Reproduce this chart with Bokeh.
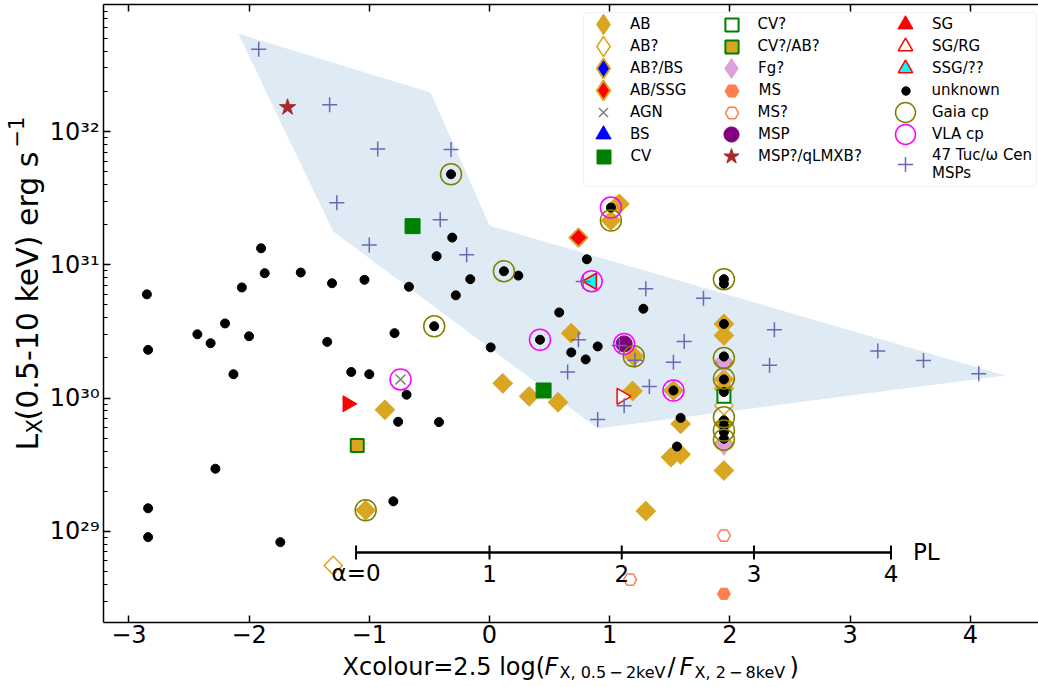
import math
from bokeh.plotting import figure
from bokeh.layouts import row, column
from bokeh.models import (Range1d, LinearAxis, FixedTicker, CustomJSTickFormatter,
                          Legend, LegendItem, BoxAnnotation)
from bokeh.core.properties import value
from bokeh.embed import file_html
from bokeh.resources import INLINE

FONT = "DejaVu Sans"
NAN = float("nan")

# ---------------- data ----------------
region_x = [-2.09, -0.49, 0.00, 4.29, 0.90, -1.30]
region_y = [5.43e32, 1.96e32, 1.97e31, 1.48e30, 5.92e29, 1.78e31]

unknown_x = [-2.85, -1.90, -1.87, -2.06, -1.57, -1.31, -1.04, -0.67, -0.32, -0.31,
             -0.44, -0.16, -0.28, 0.12, 0.24, 0.81, -2.43, -2.32, -2.20, -2.00,
             -2.84, -2.13, -1.35, -0.79, -0.46, 0.01, 0.58, 0.42, 0.68, 0.80,
             0.90, -1.15, -1.00, -0.69, -0.76, -0.42, -2.28, -2.84, -0.80, -2.84,
             -1.74, 1.01, 1.95, 1.95, 1.28, 1.53, 1.59, 1.56, 1.95, 1.95,
             1.95, 1.95, 1.95, 1.95, 1.95, 1.95]
unknown_y = [6.0e30, 1.33e31, 8.65e30, 6.76e30, 8.75e30, 7.27e30, 7.72e30, 6.84e30, 4.78e31, 1.60e31,
             1.16e31, 7.80e30, 5.90e30, 8.95e30, 8.30e30, 1.10e31, 3.01e30, 2.58e30, 3.63e30, 2.91e30,
             2.30e30, 1.51e30, 2.64e30, 3.07e30, 3.46e30, 2.40e30, 4.39e30, 2.74e30, 2.20e30, 1.95e30,
             2.44e30, 1.57e30, 1.51e30, 1.06e30, 6.64e29, 6.60e29, 2.95e29, 1.49e29, 1.68e29, 9.05e28,
             8.30e28, 2.69e31, 7.8e30, 7.2e30, 4.68e30, 1.14e30, 7.1e29, 4.33e29, 3.6e30, 2.05e30,
             1.38e30, 1.11e30, 6.8e29, 6.2e29, 5.55e29, 4.95e29]

ab_x = [-0.87, 0.11, 0.33, 0.57, 0.68, -1.03, 1.08, 1.01, 1.20, 1.19, 1.53,
        1.59, 1.51, 1.59, 1.30, 1.95, 1.95, 1.95, 1.95, 1.95, 1.95, 1.95]
ab_y = [8.17e29, 1.29e30, 1.03e30, 9.3e29, 3.07e30, 1.44e29, 2.87e31, 2.15e31, 2.06e30, 1.13e30, 1.14e30,
        6.4e29, 3.6e29, 3.78e29, 1.42e29, 3.6e30, 2.95e30, 1.38e30, 1.18e30, 6.4e29, 4.56e29, 2.86e29]
abq_x, abq_y = [-1.30, 1.95], [5.55e28, 8.8e29]
abbs_x, abbs_y = [1.95], [1.85e30]
abssg_x, abssg_y = [0.74], [1.6e31]
agn_x, agn_y = [-0.74], [1.38e30]
bs_x, bs_y = [], []
cv_x, cv_y = [-0.64, 0.45], [1.95e31, 1.14e30]
cvq_x, cvq_y = [1.95], [1.03e30]
cvab_x, cvab_y = [-1.10], [4.41e29]
fg_x, fg_y = [1.95, 1.95], [1.88e30, 4.5e29]
ms_x, ms_y = [1.95], [3.4e28]
msq_x, msq_y = [1.95, 1.17], [9.3e28, 4.34e28]
msp_x, msp_y = [1.12], [2.55e30]
qlmxb_x, qlmxb_y = [-1.68], [1.52e32]
sg_x, sg_y = [-1.18], [9.06e29]
sgrg_x, sgrg_y = [1.10], [1.03e30]
ssg_x, ssg_y = [0.85], [7.53e30]
gaia_x = [-0.32, 0.12, -0.46, -1.03, 1.01, 1.20, 1.95, 1.95, 1.95, 1.95, 1.95, 1.95]
gaia_y = [4.78e31, 8.95e30, 3.46e30, 1.44e29, 2.15e31, 2.06e30, 7.8e30, 2.0e30, 1.40e30, 7.19e29, 5.71e29, 4.87e29]
vla_x = [1.01, 0.42, -0.74, 0.85, 1.12, 1.53]
vla_y = [2.69e31, 2.74e30, 1.38e30, 7.53e30, 2.55e30, 1.14e30]
tuc_x = [-1.92, -1.33, -0.93, -0.32, -1.27, -0.41, -1.00, -0.19, 0.78, 1.30, 1.78, 0.74, 1.62,
         0.65, 1.53, 1.21, 1.08, 1.33, 1.12, 0.90, 2.37, 2.33, 3.23, 3.61, 4.07]
tuc_y = [4.14e32, 1.59e32, 7.41e31, 7.33e31, 2.92e31, 2.18e31, 1.41e31, 1.19e31, 7.5e30, 6.6e30, 5.62e30,
         2.74e30, 2.66e30, 1.57e30, 1.86e30, 1.92e30, 2.48e30, 1.22e30, 8.75e29, 6.92e29, 3.25e30,
         1.76e30, 2.26e30, 1.91e30, 1.52e30]

alpha_pos = [-1.11, 0.00, 1.10, 2.20, 3.34]
alpha_labels = ["α=0", "1", "2", "3", "4"]
pl_level = [6.95e28, 6.95e28, 6.95e28, 6.95e28, 6.95e28]

x_ticks = [-3, -2, -1, 0, 1, 2, 3, 4]
x_tick_labels = ["−3", "−2", "−1", "0", "1", "2", "3", "4"]
y_ticks = [1e29, 1e30, 1e31, 1e32]
y_tick_labels = ["10²⁹", "10³⁰", "10³¹", "10³²"]
y_minor = [m * 10.0 ** e for e in range(28, 33) for m in range(2, 10)]

# axis-title pieces: (text, page x, page y, font px, style)
xlabel_parts = [("Xcolour=2.5 log(", 342, 666, 24, "normal"),
                ("F", 544, 666, 24, "italic"),
                ("X, 0.5\u2009−\u20092keV", 559, 672, 16, "normal"),
                ("/", 667, 666, 24, "normal"),
                ("F", 679, 666, 24, "italic"),
                ("X, 2\u2009−\u20098keV", 694, 672, 16, "normal"),
                (")", 789, 666, 24, "normal")]
ylabel_parts = [("L", 27, 450, 30, "normal"),
                ("X", 34, 433, 21, "normal"),
                ("(0.5-10 keV) erg s", 27, 420, 30, "normal"),
                ("−1", 15, 147, 21, "normal")]

# ---------------- colours ----------------
GOLD = "#DAA520"
GREEN = "#008000"
PLUS = "#6868b6"

# ---------------- geometry ----------------
W, H = 1038, 687
YL_W = 46          # strip for the y title
XL_H = 33          # strip for the x title
FL, FR, FT, FB = 103, 1038, 4, 622   # frame edges in page px
X0, X1 = -3.211, 4.567
Y0, Y1 = 2.07e28, 8.98e32

p = figure(width=W - YL_W, height=H - XL_H, output_backend="svg", toolbar_location=None,
           y_axis_type="log", x_range=Range1d(X0, X1), y_range=Range1d(Y0, Y1),
           min_border_left=FL - YL_W, min_border_right=W - FR, min_border_top=FT,
           min_border_bottom=(H - XL_H) - FB)
p.outline_line_color = None
p.grid.visible = False
p.background_fill_color = "white"
p.border_fill_color = "white"

xfmt = CustomJSTickFormatter(args=dict(vals=x_ticks, labs=x_tick_labels), code="""
for (let i = 0; i < vals.length; i++) { if (Math.abs(vals[i] - tick) < 1e-9) return labs[i]; }
return '';""")
yfmt = CustomJSTickFormatter(args=dict(vals=y_ticks, labs=y_tick_labels), code="""
for (let i = 0; i < vals.length; i++) { if (Math.abs(Math.log10(vals[i]) - Math.log10(tick)) < 1e-6) return labs[i]; }
return '';""")
blank = CustomJSTickFormatter(code="return '';")

xa = p.xaxis[0]
ya = p.yaxis[0]
xa.ticker = FixedTicker(ticks=x_ticks, minor_ticks=[])
xa.formatter = xfmt
ya.ticker = FixedTicker(ticks=y_ticks, minor_ticks=y_minor)
ya.formatter = yfmt
top = LinearAxis(ticker=FixedTicker(ticks=x_ticks, minor_ticks=[]), formatter=blank,
                 major_label_text_font_size="1px", major_label_standoff=0)
p.add_layout(top, "above")

for ax in (xa, ya, top):
    ax.axis_line_color = "black"
    ax.axis_line_width = 1.5
    ax.major_tick_in = 7
    ax.major_tick_out = 0
    ax.major_tick_line_width = 1.5
    ax.minor_tick_in = 4
    ax.minor_tick_out = 0
    ax.minor_tick_line_width = 1.2
    ax.major_label_text_font = FONT
    ax.major_label_text_color = "black"
for ax in (xa, ya):
    ax.major_label_text_font_size = "24px"
xa.major_label_standoff = 2
ya.major_label_standoff = 4

# ---------------- glyphs ----------------
p.patch(region_x, region_y, fill_color="#deeaf4", line_color=None)

D = math.pi / 4
p.scatter(ab_x, ab_y, marker="square", angle=D, size=14, fill_color=GOLD, line_color=GOLD)
p.scatter(abq_x, abq_y, marker="square", angle=D, size=13, fill_color="white", line_color=GOLD, line_width=1.5)
p.scatter(abbs_x, abbs_y, marker="square", angle=D, size=13, fill_color="blue", line_color=GOLD, line_width=2)
p.scatter(abssg_x, abssg_y, marker="square", angle=D, size=13, fill_color="red", line_color=GOLD, line_width=2)
p.scatter(agn_x, agn_y, marker="x", size=14, line_color="gray", line_width=1.5)
p.scatter(bs_x, bs_y, marker="triangle", size=16, fill_color="blue", line_color="blue")
p.scatter(cv_x, cv_y, marker="square", size=15, fill_color=GREEN, line_color=GREEN)
p.scatter(cvq_x, cvq_y, marker="square", size=13, fill_color="white", line_color=GREEN, line_width=2)
p.scatter(cvab_x, cvab_y, marker="square", size=13, fill_color=GOLD, line_color=GREEN, line_width=2)
p.scatter(fg_x, fg_y, marker="diamond", size=22, fill_color="plum", line_color="plum")
p.scatter(ms_x, ms_y, marker="hex", size=13, fill_color="coral", line_color="coral")
p.scatter(msq_x, msq_y, marker="hex", size=13, fill_color="white", line_color="coral", line_width=1.5)
p.scatter(msp_x, msp_y, marker="circle", size=16, fill_color="purple", line_color="purple")
p.scatter(qlmxb_x, qlmxb_y, marker="star", size=17, fill_color="brown", line_color="brown")
p.scatter(sg_x, sg_y, marker="triangle", angle=-math.pi / 2, size=16, fill_color="red", line_color="red")
p.scatter(sgrg_x, sgrg_y, marker="triangle", angle=-math.pi / 2, size=16, fill_color="white",
          line_color="red", line_width=1.5)
p.scatter(ssg_x, ssg_y, marker="triangle", angle=math.pi / 2, size=16, fill_color="cyan",
          line_color="red", line_width=1.5)
p.scatter(unknown_x, unknown_y, marker="circle", size=9, fill_color="black", line_color="black")
p.scatter(tuc_x, tuc_y, marker="cross", size=15, line_color=PLUS, line_width=1.5)
p.scatter(gaia_x, gaia_y, marker="circle", size=21, fill_color=None, line_color="olive", line_width=1.5)
p.scatter(vla_x, vla_y, marker="circle", size=21, fill_color=None, line_color="magenta", line_width=1.5)

# PL (power-law index) scale
p.line([alpha_pos[0], alpha_pos[-1]], [pl_level[0], pl_level[-1]], line_color="black", line_width=2.5)
p.scatter(alpha_pos, pl_level, marker="dash", angle=math.pi / 2, size=14, line_color="black", line_width=2)
p.text(alpha_pos, pl_level, text=alpha_labels, y_offset=21, text_align="center", text_baseline="middle",
       text_font=value(FONT), text_font_size="23px", text_color="black")
p.text([alpha_pos[-1]], [pl_level[-1]], text=["PL"], x_offset=22, text_align="left", text_baseline="middle",
       text_font=value(FONT), text_font_size="23px", text_color="black")

# ---------------- legend: one single-entry Legend per row ----------------
def proxy(**kw):
    # one NaN point: nothing drawn in the plot, only its legend glyph
    return p.scatter([NAN], [NAN], **kw)

col1 = [
    ("AB", 52, proxy(marker="diamond", size=1, fill_color=GOLD, line_color=GOLD)),
    ("AB?", 50, proxy(marker="diamond", size=1, fill_color="white", line_color=GOLD, line_width=1.5)),
    ("AB?/BS", 50, proxy(marker="diamond", size=1, fill_color="blue", line_color=GOLD, line_width=2)),
    ("AB/SSG", 50, proxy(marker="diamond", size=1, fill_color="red", line_color=GOLD, line_width=2)),
    ("AGN", 32, proxy(marker="x", size=1, line_color="gray", line_width=1.5)),
    ("BS", 38, proxy(marker="triangle", size=1, fill_color="blue", line_color="blue")),
    ("CV", 35, proxy(marker="square", size=1, fill_color=GREEN, line_color=GREEN)),
]
col2 = [
    ("CV?", 33, proxy(marker="square", size=1, fill_color="white", line_color=GREEN, line_width=2)),
    ("CV?/AB?", 33, proxy(marker="square", size=1, fill_color=GOLD, line_color=GREEN, line_width=2)),
    ("Fg?", 50, proxy(marker="diamond", size=1, fill_color="plum", line_color="plum")),
    ("MS", 35, proxy(marker="hex", size=1, fill_color="coral", line_color="coral")),
    ("MS?", 33, proxy(marker="hex", size=1, fill_color="white", line_color="coral", line_width=1.5)),
    ("MSP", 38, proxy(marker="circle", size=1, fill_color="purple", line_color="purple")),
    ("MSP?/qLMXB?", 40, proxy(marker="star", size=1, fill_color="brown", line_color="brown")),
]
col3 = [
    ("SG", 38, proxy(marker="triangle", angle=-math.pi / 2, size=1, fill_color="red", line_color="red")),
    ("SG/RG", 36, proxy(marker="triangle", angle=-math.pi / 2, size=1, fill_color="white", line_color="red", line_width=1.5)),
    ("SSG/??", 36, proxy(marker="triangle", angle=math.pi / 2, size=1, fill_color="cyan", line_color="red", line_width=1.5)),
    ("unknown", 21, proxy(marker="circle", size=1, fill_color="black", line_color="black")),
    ("Gaia cp", 50, proxy(marker="circle", size=1, fill_color=None, line_color="olive", line_width=1.5)),
    ("VLA cp", 50, proxy(marker="circle", size=1, fill_color=None, line_color="magenta", line_width=1.5)),
    ("47 Tuc/ω Cen\nMSPs", 38, proxy(marker="cross", size=1, line_color=PLUS, line_width=1.5)),
]

def dx(cx):
    return X0 + (cx - FL) * (X1 - X0) / (FR - FL)

def dy(cy):
    return 10 ** (math.log10(Y0) + (FB - cy) * math.log10(Y1 / Y0) / (FB - FT))

p.add_layout(BoxAnnotation(left=dx(583), right=dx(1036), top=dy(12), bottom=dy(186),
                           fill_color="white", fill_alpha=0.85, line_color="#cccccc", line_width=1,
                           border_radius=4))

row_centres = [24, 46, 68, 90, 112, 134, 156]
col_marker_x = [603, 731, 905]
text_gap = 27
for ci, col in enumerate((col1, col2, col3)):
    for ri, (lab_text, g, r) in enumerate(col):
        cy = row_centres[ri] + (8 if lab_text.startswith("47") else 0)
        hh = max(g, 38 if "\n" in lab_text else 19)
        leg = Legend(items=[LegendItem(label=lab_text, renderers=[r])],
                     location=(col_marker_x[ci] - g / 2 - FL, FB - (cy + hh / 2)),
                     glyph_width=g, glyph_height=g, label_height=19,
                     label_standoff=int(round(text_gap - g / 2)),
                     padding=0, margin=0, spacing=0,
                     background_fill_alpha=0, border_line_alpha=0,
                     label_text_font=FONT, label_text_font_size="15px", label_text_color="black")
        p.add_layout(leg)

# ---------------- title strips (coordinates = page pixels, y flipped) ----------------
def strip(w, h, bl, br, bt, bb, xr, yr):
    s = figure(width=w, height=h, output_backend="svg", toolbar_location=None,
               x_range=Range1d(*xr), y_range=Range1d(*yr),
               x_axis_location=None, y_axis_location=None,
               min_border_left=bl, min_border_right=br, min_border_top=bt, min_border_bottom=bb)
    s.outline_line_color = None
    s.grid.visible = False
    s.background_fill_color = "white"
    s.border_fill_color = "white"
    return s

# y strip: page x 0..46; its frame spans page y FT..FB (same as the main frame)
ys = strip(YL_W, H, 0, 0, FT, H - FB, (0, YL_W), (H - FB, H - FT))
for t, cx, cy, fs, st in ylabel_parts:
    ys.text([cx], [H - cy], text=[t], angle=math.pi / 2, text_align="left", text_baseline="middle",
            text_font=value(FONT), text_font_size=f"{fs}px", text_font_style=st, text_color="black")

# x strip: page y 654..687; its frame spans page x FL..FR (same as the main frame)
xs = strip(W - YL_W, XL_H, FL - YL_W, W - FR, 0, 0, (FL, FR), (0, XL_H))
for t, cx, cy, fs, st in xlabel_parts:
    xs.text([cx], [H - cy], text=[t], text_align="left", text_baseline="middle",
            text_font=value(FONT), text_font_size=f"{fs}px", text_font_style=st, text_color="black")

layout = row(ys, column(p, xs, spacing=0), spacing=0)

open("out.html", "w").write(file_html(layout, INLINE))
